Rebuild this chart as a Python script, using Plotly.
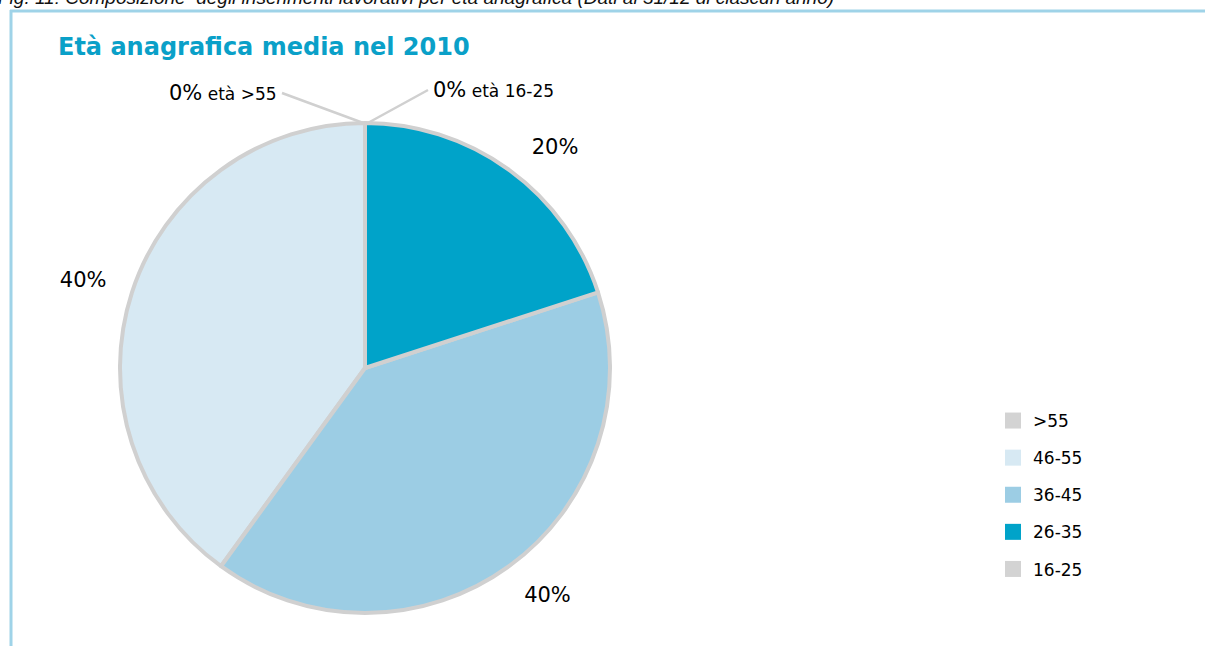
import plotly.graph_objects as go

W, H = 1205, 646

# Data (order: >55, 46-55, 36-45, 26-35, 16-25)
categories = [">55", "46-55", "36-45", "26-35", "16-25"]
values = [0, 40, 40, 20, 0]
colors = ["#d3d3d3", "#d7e9f3", "#9ccde4", "#00a3c9", "#d3d3d3"]
title_text = "Età anagrafica media nel 2010"
caption_text = "Fig. 11: Composizione  degli inserimenti lavorativi per età anagrafica (Dati al 31/12 di ciascun anno)"

FONT = "DejaVu Sans"

def px_x(x):
    return x / W

def px_y(y):
    return 1 - y / H

labels_text = [f"{v}%" if v > 0 else "" for v in values]

fig = go.Figure()
# main pie
fig.add_trace(go.Pie(
    labels=categories,
    values=values,
    sort=False,
    direction="counterclockwise",
    rotation=0,
    marker=dict(colors=colors, line=dict(color="#d0d0d0", width=4)),
    textinfo="none",
    showlegend=False,
    hoverinfo="label+percent",
    domain=dict(x=[px_x(120), px_x(610)], y=[px_y(613), px_y(123)]),
))
# transparent, larger pie used only to place the percentage labels further out
fig.add_trace(go.Pie(
    labels=categories,
    values=values,
    sort=False,
    direction="counterclockwise",
    rotation=1,
    marker=dict(colors=["rgba(0,0,0,0)"] * len(values), line=dict(width=0)),
    text=labels_text,
    textinfo="text",
    textposition="outside",
    textfont=dict(family=FONT, size=21, color="#000000"),
    showlegend=False,
    hoverinfo="skip",
    domain=dict(x=[px_x(98), px_x(632)], y=[px_y(635), px_y(101)]),
))

# Legend entries via dummy traces (one group each for spacing)
for cat, col in zip(categories, colors):
    fig.add_trace(go.Scatter(
        x=[None], y=[None], mode="markers", name=cat,
        marker=dict(symbol="square", size=18, color=col),
        legendgroup=cat, showlegend=True,
    ))

# zero-value slice labels with leader lines
top_x, top_y = px_x(366), px_y(124)
annots = []
offsets = {">55": (-84, -31, "right"), "16-25": (62, -34, "left")}
for cat, v in zip(categories, values):
    if v != 0:
        continue
    ax, ay, anchor = offsets[cat]
    annots.append(dict(
        x=top_x, y=top_y, xref="paper", yref="paper",
        text=f"<span style='font-size:21px'>{v}%</span> età {cat}",
        showarrow=True, arrowhead=0, arrowwidth=2.5, arrowcolor="#d0d0d0",
        ax=ax, ay=ay, xanchor=anchor, borderpad=4,
        font=dict(family=FONT, size=17, color="#000000"),
    ))

annots.append(dict(
    x=px_x(56), y=px_y(47), xref="paper", yref="paper",
    text=f"<b>{title_text}</b>", showarrow=False,
    xanchor="left", yanchor="middle",
    font=dict(family=FONT, size=24, color="#0aa0c8"),
))
annots.append(dict(
    x=px_x(-4), y=px_y(-2), xref="paper", yref="paper",
    text=f"<i>{caption_text}</i>", showarrow=False,
    xanchor="left", yanchor="middle",
    font=dict(family="Liberation Sans", size=19, color="#111111"),
))

fig.update_layout(
    width=W, height=H,
    margin=dict(l=0, r=0, t=0, b=0),
    paper_bgcolor="white", plot_bgcolor="white",
    xaxis=dict(visible=False), yaxis=dict(visible=False),
    annotations=annots,
    legend=dict(
        x=px_x(993), y=px_y(403), xanchor="left", yanchor="top",
        font=dict(family=FONT, size=17, color="#000000"),
        tracegroupgap=12, itemsizing="trace", bgcolor="rgba(0,0,0,0)",
    ),
    shapes=[
        dict(type="line", xref="paper", yref="paper",
             x0=px_x(10), x1=1, y0=px_y(11), y1=px_y(11),
             line=dict(color="#9fd3e8", width=3)),
        dict(type="line", xref="paper", yref="paper",
             x0=px_x(11), x1=px_x(11), y0=px_y(10), y1=0,
             line=dict(color="#9fd3e8", width=3)),
    ],
)

fig.write_html("out.html")
